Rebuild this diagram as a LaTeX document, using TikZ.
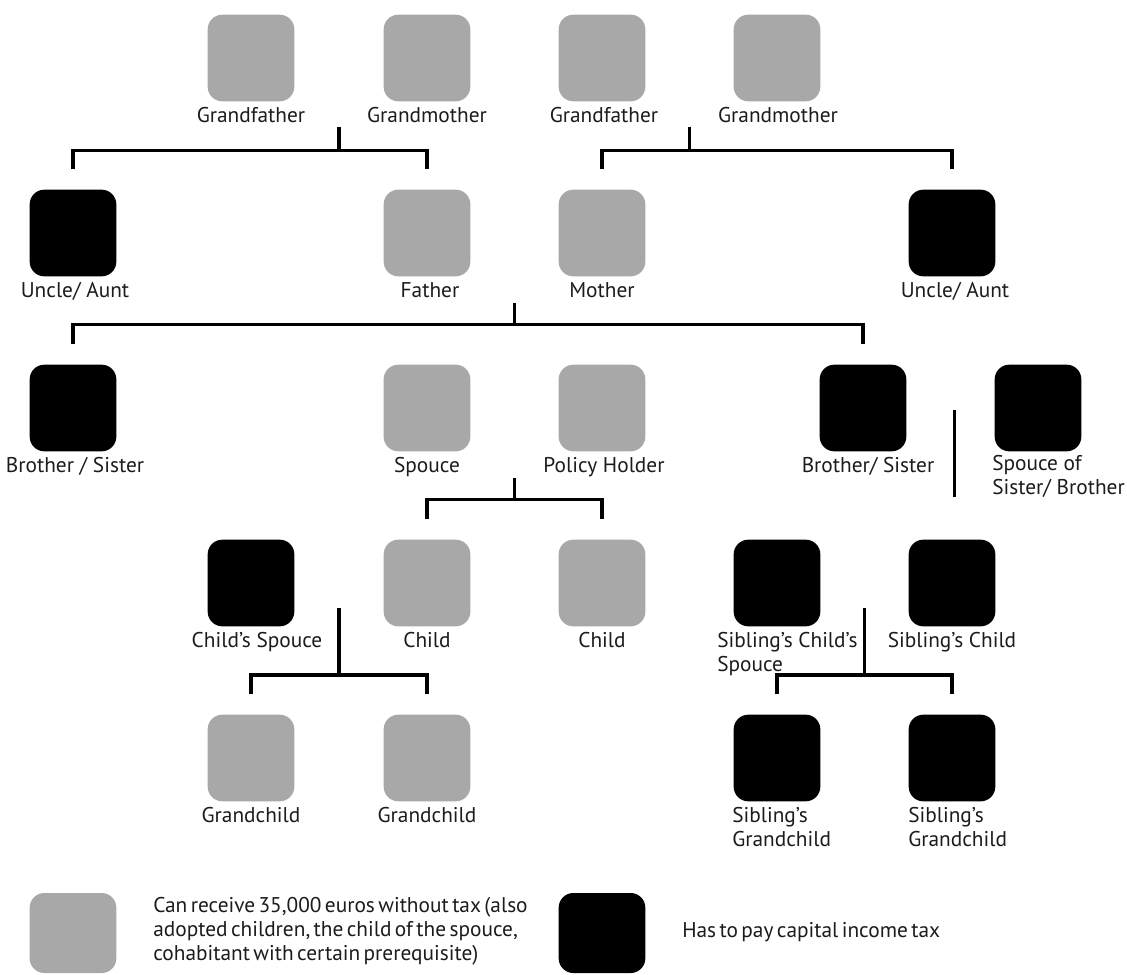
\documentclass[tikz,border=0pt]{standalone}
\usepackage{fontspec}
\setmainfont{PT Sans}
\newfontfamily\legfont[WordSpace=0.6]{PT Sans}
\usetikzlibrary{calc}
\definecolor{boxgray}{RGB}{168,168,168}
\definecolor{txt}{RGB}{28,28,28}
\begin{document}
\begin{tikzpicture}[x=0.75pt,y=-0.75pt,
  box/.style={rectangle,rounded corners=11pt,minimum width=65pt,minimum height=65pt,inner sep=0pt,draw=none},
  gbox/.style={box,fill=boxgray},
  bbox/.style={box,fill=black},
  lab/.style={font=\fontsize{16}{18}\selectfont,text=txt,inner sep=0pt,anchor=base},
  mlab/.style={font=\fontsize{16}{18}\selectfont,text=txt,inner sep=0pt,anchor=north west,align=left},
  leg/.style={font=\legfont\fontsize{16}{18}\selectfont,text=txt,inner sep=0pt,anchor=north west,align=left},
  conn/.style={line width=2.3pt}]
\useasboundingbox[fill=white] (0,0) rectangle (1127,974);
% row 1
\node[gbox] (gf1) at (251,58) {};
\node[gbox] (gm1) at (427,58) {};
\node[gbox] (gf2) at (602,58) {};
\node[gbox] (gm2) at (777,58) {};
\node[lab] (lgf1) at (251,122) {Grandfather};
\node[lab] (lgm1) at (427,122) {Grandmother};
\node[lab] (lgf2) at (604,122) {Grandfather};
\node[lab] (lgm2) at (778,122) {Grandmother};
% row 2
\node[bbox] (uncL) at (73,233) {};
\node[gbox] (father) at (427,233) {};
\node[gbox] (mother) at (602,233) {};
\node[bbox] (uncR) at (952,233) {};
\node[lab] (luncL) at (75,297) {Uncle/ Aunt};
\node[lab] (lfather) at (430,297) {Father};
\node[lab] (lmother) at (602,297) {Mother};
\node[lab] (luncR) at (955,297) {Uncle/ Aunt};
% row 3
\node[bbox] (sibL) at (73,408) {};
\node[gbox] (spouse) at (427,408) {};
\node[gbox] (ph) at (602,408) {};
\node[bbox] (sibR) at (863,408) {};
\node[bbox] (sibsp) at (1038,408) {};
\node[lab] (lsibL) at (75,472) {Brother / Sister};
\node[lab] (lspouse) at (427,472) {Spouce};
\node[lab] (lph) at (604,472) {Policy Holder};
\node[lab] (lsibR) at (868,472) {Brother/ Sister};
\node[mlab] (lsibsp) at (992,455) {Spouce of\\Sister/ Brother};
% row 4
\node[bbox] (cspouse) at (251,583) {};
\node[gbox] (child1) at (427,583) {};
\node[gbox] (child2) at (602,583) {};
\node[bbox] (sccs) at (777,583) {};
\node[bbox] (sc) at (952,583) {};
\node[lab] (lcspouse) at (257,647) {Child’s Spouce};
\node[lab] (lchild1) at (427,647) {Child};
\node[lab] (lchild2) at (602,647) {Child};
\node[mlab] (lsccs) at (717,632) {Sibling’s Child’s\\Spouce};
\node[lab] (lsc) at (952,647) {Sibling’s Child};
% row 5
\node[gbox] (gc1) at (251,758) {};
\node[gbox] (gc2) at (427,758) {};
\node[bbox] (sg1) at (777,758) {};
\node[bbox] (sg2) at (952,758) {};
\node[lab] (lgc1) at (251,822) {Grandchild};
\node[lab] (lgc2) at (427,822) {Grandchild};
\node[mlab] (lsg1) at (732,807) {Sibling’s\\Grandchild};
\node[mlab] (lsg2) at (908,807) {Sibling’s\\Grandchild};
% connectors
\coordinate (p1) at ($(gf1.south)!0.5!(gm1.south)+(0,25)$);
\draw[conn] (p1) -- ++(0,24) coordinate (h1);
\draw[conn] ($(uncL.north)+(0,-20)$) |- (h1) -| ($(father.north)+(0,-20)$);
\coordinate (p2) at ($(gf2.south)!0.5!(gm2.south)+(0,25)$);
\draw[conn] (p2) -- ++(0,24) coordinate (h2);
\draw[conn] ($(mother.north)+(0,-20)$) |- (h2) -| ($(uncR.north)+(0,-20)$);
\coordinate (p3) at ($(father.south)!0.5!(mother.south)+(0,26)$);
\draw[conn] (p3) -- ++(0,22) coordinate (h3);
\draw[conn] ($(sibL.north)+(0,-20)$) |- (h3) -| ($(sibR.north)+(0,-20)$);
\coordinate (p4) at ($(spouse.south)!0.5!(ph.south)+(0,26)$);
\draw[conn] (p4) -- ++(0,22) coordinate (h4);
\draw[conn] ($(child1.north)+(0,-20)$) |- (h4) -| ($(child2.north)+(0,-20)$);
\coordinate (p5) at ($(cspouse.east)!0.5!(child1.west)+(0,25)$);
\draw[conn] (p5) -- ++(0,67) coordinate (h5);
\draw[conn] ($(gc1.north)+(0,-20)$) |- (h5) -| ($(gc2.north)+(0,-20)$);
\coordinate (p6) at ($(sccs.east)!0.5!(sc.west)+(0,25)$);
\draw[conn] (p6) -- ++(0,67) coordinate (h6);
\draw[conn] ($(sg1.north)+(0,-20)$) |- (h6) -| ($(sg2.north)+(0,-20)$);
\coordinate (ms) at ($(sibR.east)!0.5!(sibsp.west)+(4,2)$);
\draw[conn] (ms) -- ++(0,87);
% legend
\node[box,fill=boxgray,minimum height=60pt] (lg) at (73,933) {};
\node[box,fill=black,minimum height=60pt] (lb) at (602,933) {};
\node[leg] (lgt) at (153,897) {Can receive 35,000 euros without tax (also\\adopted children, the child of the spouce,\\cohabitant with certain prerequisite)};
\node[leg,anchor=base west] (lbt) at (682,937) {Has to pay capital income tax};
\end{tikzpicture}
\end{document}
